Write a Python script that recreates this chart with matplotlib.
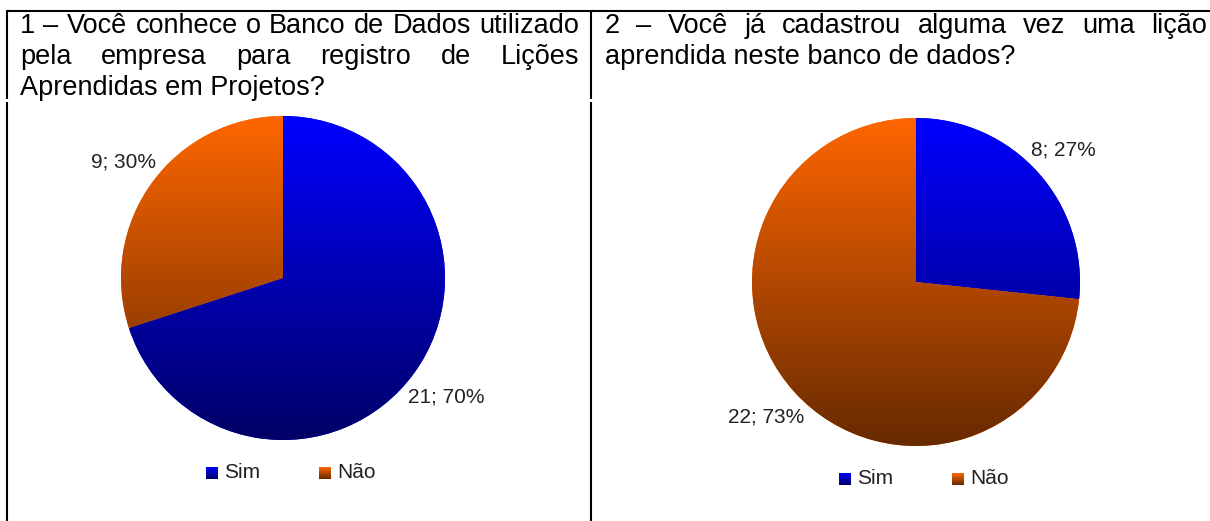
import matplotlib
matplotlib.use("Agg")
import matplotlib.pyplot as plt
import numpy as np
from matplotlib.colors import LinearSegmentedColormap

plt.rcParams['font.family'] = ['Liberation Sans', 'DejaVu Sans']

W, H = 1210, 521

# dados
categories = ['Sim', 'Não']
q1_values = [21, 9]
q2_values = [8, 22]

q1_lines = ['1 – Você conhece o Banco de Dados utilizado',
            'pela empresa para registro de Lições',
            'Aprendidas em Projetos?']
q2_lines = ['2 – Você já cadastrou alguma vez uma lição',
            'aprendida neste banco de dados?']

TOP = {'Sim': '#0000ff', 'Não': '#ff6600'}
BOTTOM = {'Sim': '#000066', 'Não': '#662a00'}
LABEL_COLOR = '#222222'

fig = plt.figure(figsize=(W / 100, H / 100), dpi=100)
ax = fig.add_axes([0, 0, 1, 1])
renderer = fig.canvas.get_renderer()


def gradient(cat, extent, clip=None):
    cmap = LinearSegmentedColormap.from_list(cat, [BOTTOM[cat], TOP[cat]])
    grad = np.linspace(0, 1, 256).reshape(-1, 1)
    im = ax.imshow(grad, cmap=cmap, origin='lower', extent=extent,
                   aspect='auto', interpolation='bilinear', zorder=2)
    if clip is not None:
        im.set_clip_path(clip)


def header(lines, x0, x1, y0, step, size=19.5):
    """Texto justificado, como na tabela original."""
    for i, line in enumerate(lines):
        y = H - (y0 + i * step)
        words = line.split(' ')
        if i == len(lines) - 1:
            ax.text(x0, y, line, fontsize=size, va='baseline', ha='left')
            continue
        texts = [ax.text(0, y, w, fontsize=size, va='baseline', ha='left')
                 for w in words]
        widths = [t.get_window_extent(renderer).width for t in texts]
        gap = (x1 - x0 - sum(widths)) / (len(words) - 1)
        x = x0
        for t, w in zip(texts, widths):
            t.set_x(x)
            x += w + gap


def pie(values, cx, cy, r):
    cy = H - cy
    wedges, _ = ax.pie(values, startangle=90, counterclock=False,
                       center=(cx, cy), radius=r,
                       colors=[TOP[c] for c in categories],
                       wedgeprops=dict(linewidth=0))
    total = sum(values)
    for w, cat, v in zip(wedges, categories, values):
        gradient(cat, [cx - r, cx + r, cy - r, cy + r], clip=w)
        ang = np.deg2rad((w.theta1 + w.theta2) / 2)
        t = ax.text(cx, cy, f'{v}; {round(100 * v / total)}%', fontsize=15,
                    color=LABEL_COLOR, ha='center', va='center')
        bb = t.get_window_extent(renderer)
        d = r * 1.02 + abs(np.cos(ang)) * bb.width / 2 + abs(np.sin(ang)) * bb.height / 2
        t.set_position((cx + d * np.cos(ang), cy + d * np.sin(ang)))

    # legenda
    ly = cy - r - 33
    lx = cx - 77
    s = 12
    for i, cat in enumerate(categories):
        x = lx + i * 113
        gradient(cat, [x, x + s, ly - s / 2, ly + s / 2])
        ax.text(x + s + 6, ly, cat, fontsize=15, color=LABEL_COLOR,
                ha='left', va='center')


pie(q1_values, 283, 278, 162)
pie(q2_values, 916, 282, 164)

header(q1_lines, 20, 579, 33, 31)
header(q2_lines, 605, 1207, 33, 31)

# bordas da tabela
lw = 1.5
ax.plot([6, W], [H - 11, H - 11], color='black', lw=lw, solid_capstyle='butt')
for x in (7, 591):
    ax.plot([x, x], [H - 11, H - 99], color='black', lw=lw, solid_capstyle='butt')
    ax.plot([x, x], [H - 102, 0], color='black', lw=lw, solid_capstyle='butt')

ax.set_xlim(0, W)
ax.set_ylim(0, H)
ax.set_aspect('auto')
ax.axis('off')

fig.savefig('out.png', dpi=100)
